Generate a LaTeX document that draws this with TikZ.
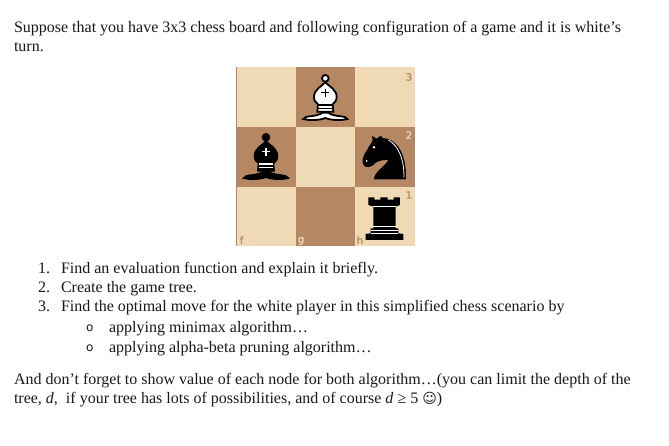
\documentclass[tikz,border=0pt]{standalone}
\usepackage{fontspec}
\setmainfont{Liberation Serif}
\newfontfamily\symfont{DejaVu Sans}
\newfontfamily\labelfont{DejaVu Sans}[FakeBold=1.5]
\definecolor{lightsq}{HTML}{F0D9B5}
\definecolor{darksq}{HTML}{B58863}
\tikzset{
  txt/.style={anchor=base west,inner sep=0pt,outer sep=0pt,font=\fontsize{16}{19}\selectfont,text=black!90},
  bul/.style={anchor=base west,inner sep=0pt,outer sep=0pt,font=\symfont\fontsize{12}{12}\selectfont,text=black!90},
  lightcell/.style={fill=lightsq,draw=none},
  darkcell/.style={fill=darksq,draw=none},
  coordl/.style={inner sep=0pt,font=\labelfont\fontsize{10}{10}\selectfont},
  % bishop drawn in zoom units, origin at the ball centre
  pics/bishop/.style n args={2}{code={
    \path[draw=black,fill=#1,line width=1.8pt] (0,0) circle (10);
    \path[draw=black,fill=#1,line width=1.8pt]
      (0,12) .. controls (-12,24) and (-34,34) .. (-34,56) .. controls (-34,68) and (-28,72) .. (-22,78)
      -- (-24,100) -- (24,100) -- (22,78) .. controls (28,72) and (34,68) .. (34,56) .. controls (34,34) and (12,24) .. (0,12) -- cycle;
    \path[draw=#2,line width=1.6pt] (0,31) -- (0,55) (-12,43) -- (12,43);
    \path[draw=#2,line width=1.2pt] (-20,80) -- (20,80) (-22,91) -- (22,91);
    \path[draw=black,fill=#1,line width=1.8pt]
      (-66,122) .. controls (-62,110) and (-30,118) .. (-8,103) -- (8,103)
      .. controls (30,118) and (62,110) .. (66,122) .. controls (50,127) and (15,126) .. (0,119)
      .. controls (-15,126) and (-50,127) .. (-66,122) -- cycle;
  }},
}
\begin{document}
\begin{tikzpicture}[x=1pt,y=-1pt]
\useasboundingbox (0,0) rectangle (669,446);
\fill[white] (0,0) rectangle (669,446);
\node[txt] (l1) at (14,33) {Suppose that you have 3x3 chess board and following configuration of a game and it is white’s};
\node[txt] (l2) at (14,52) {turn.};
% board
\fill[lightcell] (236,67) rectangle (296,127);
\fill[darkcell] (296,67) rectangle (355,127);
\fill[lightcell] (355,67) rectangle (415,127);
\fill[darkcell] (236,127) rectangle (296,187);
\fill[lightcell] (296,127) rectangle (355,187);
\fill[darkcell] (355,127) rectangle (415,187);
\fill[lightcell] (236,187) rectangle (296,246);
\fill[darkcell] (296,187) rectangle (355,246);
\fill[lightcell] (355,187) rectangle (415,246);
\fill[darkcell] (235.5,67) rectangle (236.5,246);
% pieces, in zoom units (3 per pixel)
\begin{scope}[shift={(225,60)},x=0.3333pt,y=-0.3333pt]
  \pic at (301,55) {bishop={white}{black}};
  \pic at (123,232) {bishop={black}{white}};
  % knight
  \fill[black] (447,358) .. controls (447,335) and (480,320) .. (490,300)
    .. controls (478,298) and (465,302) .. (452,308) .. controls (445,320) and (425,325) .. (418,318)
    .. controls (408,308) and (412,290) .. (425,272) .. controls (432,258) and (440,250) .. (443,240)
    -- (441,228) -- (455,236) -- (468,227) -- (472,234)
    .. controls (515,235) and (545,280) .. (543,358) -- cycle;
  \draw[white,line width=0.8pt] (490,240) .. controls (520,255) and (538,300) .. (537,352);
  \fill[white] (447,262) circle (4);
  \fill[white] (425,303) circle (3);
  % rook
  \fill[black] (430,412) -- (448,412) -- (448,419) -- (466,419) -- (466,412) -- (488,412) -- (488,419)
    -- (506,419) -- (506,412) -- (525,412) -- (525,435) -- (512,440) -- (512,505)
    -- (520,505) -- (520,520) -- (535,522) -- (535,540) -- (422,540) -- (422,522) -- (437,520)
    -- (437,505) -- (445,505) -- (445,440) -- (430,435) -- cycle;
  \draw[white,line width=0.7pt] (445,440) -- (512,440) (445,499) -- (512,499) (437,512) -- (520,512) (437,521) -- (520,521);
\end{scope}
\node[coordl,text=darksq] (r3) at (409,77) {3};
\node[coordl,text=lightsq] (r2) at (409,135) {2};
\node[coordl,text=darksq] (r1) at (409,195) {1};
\node[coordl,text=darksq] (ff) at (241.5,240) {f};
\node[coordl,text=lightsq] (fg) at (301,241) {g};
\node[coordl,text=darksq] (fh) at (360,240) {h};
% list
\node[txt] (n1) at (38,273) {1.};
\node[txt] (t1) at (61,273) {Find an evaluation function and explain it briefly.};
\node[txt] (n2) at (38,293) {2.};
\node[txt] (t2) at (61,293) {Create the game tree.};
\node[txt] (n3) at (38,312) {3.};
\node[txt] (t3) at (61,312) {Find the optimal move for the white player in this simplified chess scenario by};
\node[bul] (b1) at (86,331) {o};
\node[txt] (t4) at (109,332) {applying minimax algorithm…};
\node[bul] (b2) at (86,351) {o};
\node[txt] (t5) at (109,352) {applying alpha-beta pruning algorithm…};
\node[txt] (p1) at (14,384) {And don’t forget to show value of each node for both algorithm…(you can limit the depth of the};
\node[txt] (p2) at (14,403) {tree, \textit{d},\ \ if your tree has lots of possibilities, and of course \textit{d} ≥ 5 {\symfont\fontsize{14}{14}\selectfont ☺})};
\end{tikzpicture}
\end{document}
